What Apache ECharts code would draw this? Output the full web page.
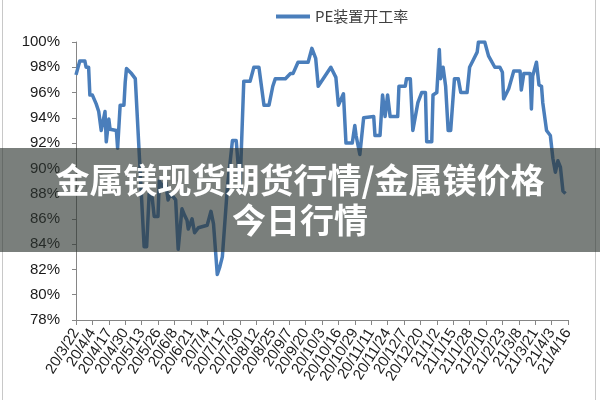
<!DOCTYPE html>
<html>
<head>
<meta charset="utf-8">
<script src="https://cdn.jsdelivr.net/npm/echarts@6/dist/echarts.min.js"></script>
<style>html,body{margin:0;padding:0;background:#fff}#c{width:600px;height:400px}</style>
</head>
<body>
<div id="c"></div>
<script>
const seriesName = 'PE装置开工率';
const tickLabels = ['20/3/22','20/4/4','20/4/17','20/4/30','20/5/13','20/5/26','20/6/8','20/6/21','20/7/4','20/7/17','20/7/30','20/8/12','20/8/25','20/9/7','20/9/20','20/10/3','20/10/16','20/10/29','20/11/11','20/11/24','20/12/7','20/12/20','21/1/2','21/1/15','21/1/28','21/2/10','21/2/23','21/3/8','21/3/21','21/4/3','21/4/16'];
const labelStep = 13; // days between tick labels
const totalDays = 391; // 20/3/22 .. 21/4/16
// day offset from 20/3/22
const days = [0,3,7,8,10,11,13,16,18,19,20,23,24,26,27,32,33,34,35,38,39,40,44,47,54,56,58,60,62,65,66,69,71,73,75,79,81,84,86,88,89,92,94,97,104,107,109,112,114,116,120,124,127,130,133,138,141,145,149,153,156,158,166,170,172,176,184,187,190,192,202,206,208,212,214,219,221,222,225,228,236,237,241,243,245,247,249,255,256,261,262,265,267,271,274,277,278,282,283,286,288,289,291,293,295,297,300,303,305,310,312,315,318,319,324,327,332,336,338,339,343,344,347,352,353,355,360,361,362,365,367,369,370,373,376,378,380,382,384,386,388];
const rates = [97.4,98.5,98.5,98.0,98.0,95.8,95.8,95.1,94.5,94.4,93.0,94.5,92.1,93.9,93.1,93.0,91.6,91.6,95.0,95.0,96.8,97.9,97.5,97.1,83.8,83.8,88.0,88.0,86.2,86.2,89.0,88.5,88.9,87.5,88.0,87.5,83.6,86.8,86.3,85.9,85.2,86.0,84.9,85.3,85.5,86.6,85.6,81.6,82.2,83.0,88.5,92.2,92.2,88.5,96.9,96.9,98.0,98.0,95.0,95.0,96.5,97.1,97.1,97.5,97.5,98.4,98.4,99.5,98.7,96.5,98.0,97.2,95.0,95.9,92.0,92.0,93.4,92.6,91.1,94.0,94.1,92.6,92.6,95.8,94.1,95.8,94.1,94.1,96.5,96.5,97.1,97.1,93.0,95.2,96.0,96.0,92.1,92.1,95.8,96.0,99.4,97.1,98.0,96.5,93.0,93.0,97.1,97.1,96.0,96.0,98.0,98.6,99.2,100.0,100.0,98.9,98.0,98.0,97.6,95.5,96.3,96.3,97.7,97.7,96.2,97.5,97.5,94.7,97.3,98.4,96.6,96.5,95.2,93.0,92.6,90.8,89.7,90.6,90.1,88.2,88.0];
const titleLine1 = '金属镁现货期货行情/金属镁价格';
const titleLine2 = '今日行情';

const dayAxis = Array.from({length: totalDays}, (_, i) => i);
const data = days.map((d, i) => [d, rates[i]]);
const chart = echarts.init(document.getElementById('c'), null, {renderer: 'canvas'});
const axisGray = '#868686';
chart.setOption({
  animation: false,
  backgroundColor: '#fff',
  legend: {
    data: [seriesName], left: 271, top: 4, icon: 'rect', itemWidth: 34, itemHeight: 4, itemGap: 4,
    textStyle: {fontSize: 15, color: '#404040', fontFamily: '"Noto Sans CJK SC", sans-serif'}
  },
  grid: {left: 76, right: 32, top: 42, bottom: 80, containLabel: false},
  xAxis: {
    type: 'category', data: dayAxis, boundaryGap: false,
    splitLine: {show: false},
    axisLine: {show: true, lineStyle: {color: axisGray, width: 1}},
    axisTick: {show: true, length: 5, lineStyle: {color: axisGray}, interval: (i) => i % labelStep === 0},
    axisLabel: {
      interval: 0, rotate: 58, margin: 10, fontSize: 15, color: '#1a1a1a', fontFamily: '"Liberation Sans", Arial, sans-serif',
      formatter: (v, i) => (i % labelStep === 0 ? (tickLabels[i / labelStep] || '') : '')
    }
  },
  yAxis: {
    type: 'value', min: 78, max: 100, interval: 2,
    splitLine: {show: false},
    axisLine: {show: true, lineStyle: {color: axisGray, width: 1}},
    axisTick: {show: true, length: 4, lineStyle: {color: axisGray}},
    axisLabel: {formatter: '{value}%', fontSize: 15, color: '#1a1a1a', margin: 16, fontFamily: '"Liberation Sans", Arial, sans-serif'}
  },
  series: [{
    name: seriesName, type: 'line', data: data, showSymbol: false, symbol: 'none',
    lineStyle: {color: '#4a7ebb', width: 3.5, join: 'round'}, itemStyle: {color: '#4a7ebb'}
  }],
  graphic: [
    {type: 'line', shape: {x1: 2.5, y1: 0, x2: 2.5, y2: 400}, style: {stroke: '#c8c8c8', lineWidth: 1}},
    {type: 'line', shape: {x1: 595.5, y1: 0, x2: 595.5, y2: 400}, style: {stroke: '#c8c8c8', lineWidth: 1}},
    {type: 'rect', z: 100, shape: {x: 0, y: 148, width: 600, height: 104}, style: {fill: 'rgba(44,52,48,0.63)'}},
    {type: 'text', z: 101, style: {text: titleLine1, x: 300, y: 180, align: 'center', verticalAlign: 'middle', fill: '#fff', font: 'bold 34px "Noto Sans CJK SC", sans-serif'}},
    {type: 'text', z: 101, style: {text: titleLine2, x: 300, y: 220, align: 'center', verticalAlign: 'middle', fill: '#fff', font: 'bold 34px "Noto Sans CJK SC", sans-serif'}}
  ]
});
</script>
</body>
</html>
